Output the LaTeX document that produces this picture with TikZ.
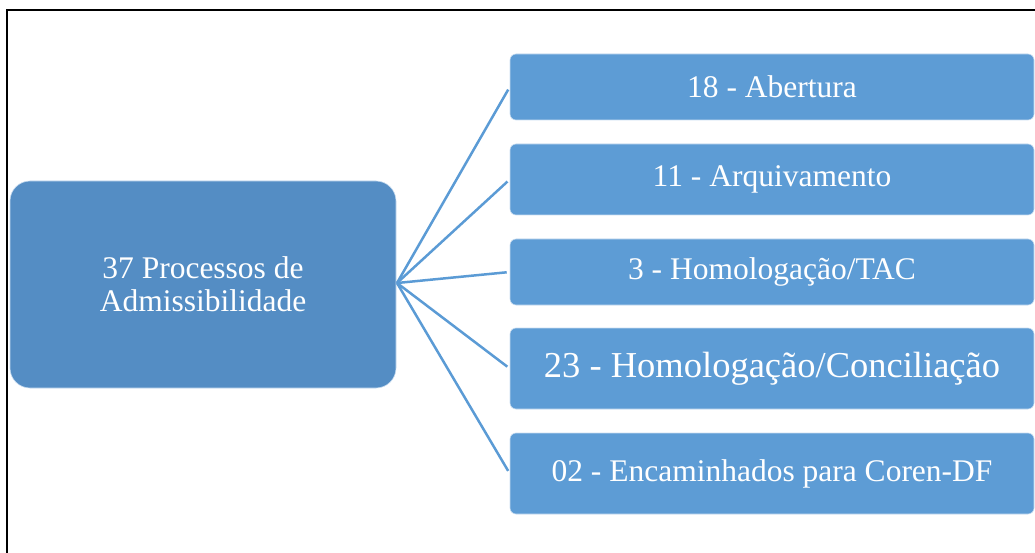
\documentclass[tikz,border=0pt]{standalone}
\usepackage{fontspec}
\setmainfont{Liberation Serif}
\definecolor{leftfill}{RGB}{84,141,196}
\definecolor{rightfill}{RGB}{93,156,213}
\definecolor{linkcol}{RGB}{91,155,213}
\definecolor{edgecol}{RGB}{200,220,240}
\begin{document}
\begin{tikzpicture}[x=1pt,y=-1pt,
  mainbox/.style={fill=leftfill,draw=edgecol,line width=0.6pt,rounded corners=20pt,
    minimum width=386pt,minimum height=207pt,inner sep=0pt,text=white,
    align=center,font=\fontsize{31.5}{33}\selectfont},
  leafbox/.style={fill=rightfill,draw=edgecol,line width=0.6pt,rounded corners=6pt,
    minimum width=524pt,inner sep=0pt,text=white,align=center,
    font=\fontsize{31.5}{34}\selectfont},
  link/.style={draw=linkcol,line width=2.5pt,shorten >=3pt}]
\useasboundingbox (0,0) rectangle (1035,553);
\draw[line width=2pt,black] (7,553) -- (7,10.5) -- (1035,10.5);
\node[mainbox] (root) at (203,284.5) {37 Processos de\\Admissibilidade};
\node[leafbox,minimum height=66pt] (b1) at (772,87) {18 - Abertura};
\node[leafbox,minimum height=71pt] (b2) at (772,179.5) {11 - Arquivamento};
\node[leafbox,minimum height=66pt] (b3) at (772,272) {3 - Homologação/TAC};
\node[leafbox,minimum height=81pt,font=\fontsize{36.5}{40}\selectfont] (b4) at (772,368.5) {23 - Homologação/Conciliação};
\node[leafbox,minimum height=81pt] (b5) at (772,473.5) {02 - Encaminhados para Coren-DF};
\coordinate (hub) at (397,283);
\foreach \b in {b1,b2,b3,b4,b5} \draw[link] (hub) -- (\b.west);
\end{tikzpicture}
\end{document}
